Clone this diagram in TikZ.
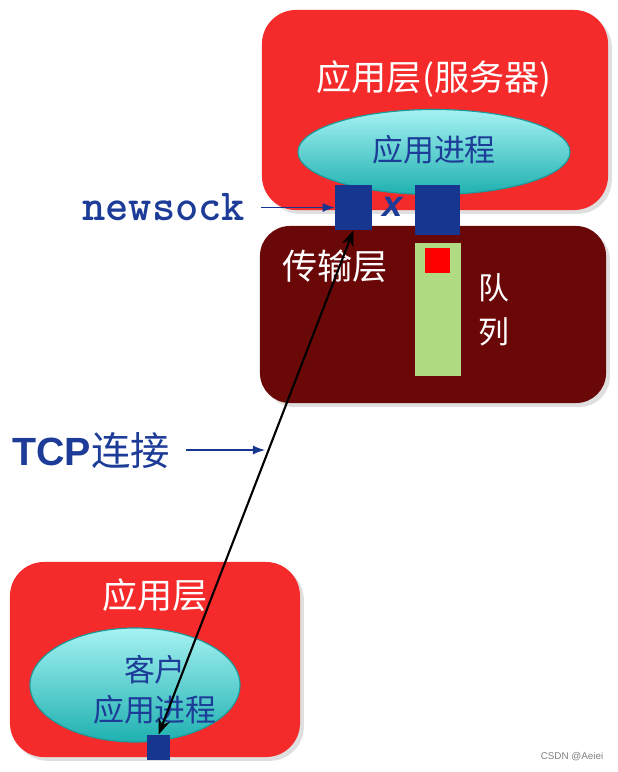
\documentclass[tikz,border=0pt]{standalone}
\usepackage{fontspec}
\setmainfont{Noto Sans CJK SC}
\newfontfamily\arialfont{Liberation Sans}
\usetikzlibrary{positioning, arrows.meta, shadows, shapes.geometric}

\definecolor{layerred}{HTML}{F52B2B}
\definecolor{tpred}{HTML}{6A0707}
\definecolor{sockblue}{HTML}{17368F}
\definecolor{txtblue}{HTML}{1C3C98}
\definecolor{qgreen}{HTML}{B0DB83}
\definecolor{proctop}{HTML}{A6F2F2}
\definecolor{procbot}{HTML}{1FB0B0}
\definecolor{procline}{HTML}{1A9A9A}

\begin{document}
\begin{tikzpicture}[x=0.025cm, y=-0.025cm,
	layer/.style={rectangle, rounded corners=0.85cm, fill=layerred, drop shadow={opacity=0.25}},
	tplayer/.style={rectangle, rounded corners=0.75cm, fill=tpred, drop shadow={opacity=0.25}},
	proc/.style={ellipse, draw=procline, thick, top color=proctop, bottom color=procbot},
	sock/.style={rectangle, fill=sockblue, inner sep=0pt},
	white text/.style={text=white, inner sep=0pt},
	blue text/.style={text=txtblue, inner sep=0pt},
	ptr/.style={->, >={Latex[length=0.3cm]}, draw=sockblue, line width=0.9pt},
	conn/.style={{Stealth[length=0.4cm]}-{Stealth[length=0.4cm]}, line width=1.5pt}]
	\useasboundingbox (0,0) rectangle (618,772);

	% server side
	\node[layer, minimum width=8.65cm, minimum height=5cm] (server) at (435,110) {};
	\node[white text, font=\fontsize{25}{30}\selectfont] (srvtitle) at (434,79) {应用层(服务器)};
	\node[proc, minimum width=6.8cm, minimum height=2.125cm] (srvproc) at (434,152) {};
	\node[blue text, font=\fontsize{22}{26}\selectfont] (srvtext) at (434,150) {应用进程};

	\node[tplayer, minimum width=8.65cm, minimum height=4.425cm] (transport) at (433,314.5) {};
	\node[white text, font=\fontsize{25}{30}\selectfont] (tptitle) at (335,266) {传输层};

	\node[sock, minimum width=0.925cm, minimum height=1.125cm] (sockL) at (353.5,207.5) {};
	\node[sock, minimum width=1.125cm, minimum height=1.25cm] (sockR) at (437.5,210) {};
	\node[blue text, font=\arialfont\bfseries\itshape\fontsize{26}{30}\selectfont] (xmark) at (393,207) {x};

	% queue
	\node[rectangle, fill=qgreen, inner sep=0pt, minimum width=1.15cm, minimum height=3.325cm] (queue) at (438,309.5) {};
	\node[rectangle, fill=red, inner sep=0pt, minimum size=0.625cm] (pkt) at (437.5,260.5) {};
	\node[white text, align=center, font=\fontsize{22}{31}\selectfont] (qtext) at (494,310) {队\\列};

	% client side
	\node[layer, minimum width=7.25cm, minimum height=4.875cm] (client) at (155,659.5) {};
	\node[white text, font=\fontsize{25}{30}\selectfont] (clititle) at (155,595) {应用层};
	\node[proc, minimum width=5.25cm, minimum height=2.85cm] (cliproc) at (135,685) {};
	\node[blue text, align=center, font=\fontsize{22}{28.5}\selectfont] (clitext) at (155,690) {客户\\应用进程};
	\node[sock, minimum width=0.575cm, minimum height=0.625cm] (sockC) at (158.5,747.5) {};

	% labels
	\node[blue text, anchor=base west, font=\ttfamily\bfseries\fontsize{31.5}{34}\selectfont] (newsock) at (82,220) {newsock};
	\node[blue text, anchor=base west, font=\fontsize{28}{32}\selectfont] (tcp) at (12,465) {{\arialfont\bfseries TCP}连接};
	\coordinate (tcpend) at (265,450);
	\node[text=gray, inner sep=0pt, font=\arialfont\fontsize{7}{8}\selectfont] (mark) at (572,757) {CSDN @Aeiei};

	\draw[ptr, shorten <=0.4cm] (newsock.east |- sockL) -- (sockL.west);
	\draw[ptr, shorten <=0.4cm] (tcp.east |- tcpend) -- (tcpend);
	\draw[conn] (sockL.south) -- (sockC.north);
\end{tikzpicture}
\end{document}
